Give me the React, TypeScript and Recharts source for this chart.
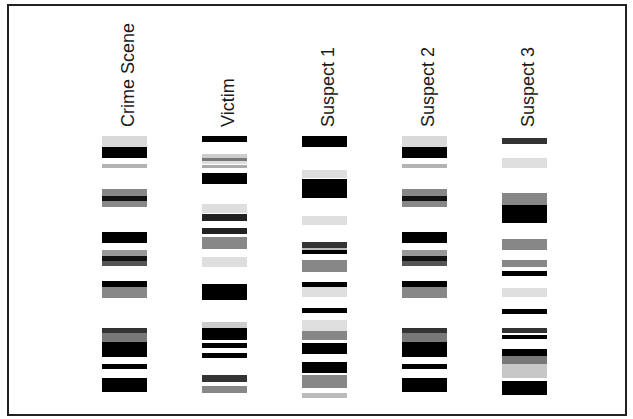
import { BarChart, Bar, XAxis, YAxis, Cell } from "recharts"

// Each band: [start, end, intensity]. Start/end are migration distance from the
// well (same units as the gel image), intensity is 0 (none) .. 1 (saturated).
type Band = [number, number, number]

const lanes = ["Crime Scene", "Victim", "Suspect 1", "Suspect 2", "Suspect 3"]

const crimeScene: Band[] = [
  [3, 14, 0.15], [14, 25, 1], [31, 35, 0.3],
  [56, 63, 0.47], [63, 68, 0.93], [68, 74, 0.47],
  [99, 110, 1],
  [117, 123, 0.4], [123, 128, 0.93], [128, 133, 0.67],
  [148, 154, 1], [154, 165, 0.47],
  [195, 200, 0.8], [200, 209, 0.53], [209, 224, 1],
  [231, 236, 1],
  [245, 259, 1],
]

const victim: Band[] = [
  [3, 9, 1],
  [21, 25, 0.2], [25, 28, 0.53], [28, 31, 0.13], [32, 35, 0.33],
  [40, 51, 1],
  [71, 80, 0.13], [81, 88, 0.87],
  [95, 101, 0.87], [104, 116, 0.47],
  [124, 134, 0.13],
  [151, 167, 1],
  [189, 195, 0.2], [195, 207, 1],
  [210, 215, 1], [220, 225, 1],
  [242, 249, 0.8], [253, 260, 0.47],
]

const suspect1: Band[] = [
  [3, 14, 1],
  [37, 45, 0.13], [46, 65, 1],
  [83, 92, 0.13],
  [109, 115, 0.8], [115, 117, 0.27], [117, 121, 1],
  [127, 139, 0.47],
  [149, 154, 1], [154, 164, 0.13],
  [175, 180, 1],
  [187, 198, 0.13], [198, 207, 0.47],
  [210, 221, 1],
  [229, 240, 1],
  [242, 255, 0.47],
  [260, 265, 0.27],
]

// Suspect 2 gives the same profile as the crime scene sample
const suspect2: Band[] = crimeScene.map((b) => [b[0], b[1], b[2]] as Band)

const suspect3: Band[] = [
  [5, 11, 0.8],
  [25, 35, 0.13],
  [60, 72, 0.47], [72, 90, 1],
  [106, 117, 0.47],
  [127, 134, 0.47], [138, 143, 1],
  [155, 164, 0.13],
  [176, 181, 1],
  [195, 200, 0.8], [202, 206, 1],
  [216, 223, 1], [223, 231, 0.53], [231, 245, 0.22],
  [248, 262, 1],
]

const laneBands = [crimeScene, victim, suspect1, suspect2, suspect3]
const maxBands = Math.max(...laneBands.map((l) => l.length))

const rows = lanes.map((lane, i) => {
  const row: Record<string, unknown> = { lane }
  laneBands[i].forEach((b, k) => {
    row[`b${k}`] = [b[0], b[1]]
    row[`i${k}`] = b[2]
  })
  return row
})

function shade(intensity: number) {
  const g = Math.round(255 * (1 - intensity))
  return `rgb(${g},${g},${g})`
}

const BAR = 45

function LaneLabel(props: any) {
  const { x, y, payload } = props
  const px = x + 10
  const py = y - 6
  return (
    <text
      x={px}
      y={py}
      transform={`rotate(-90, ${px}, ${py})`}
      textAnchor="start"
      fontSize={18}
      fontFamily="'Liberation Sans', Arial, sans-serif"
      fill="#1a1a1a"
    >
      {payload.value}
    </text>
  )
}

export default function App() {
  return (
    <div style={{ position: "absolute", left: 0, top: 0, width: 633, height: 419, background: "#fff" }}>
      <div
        style={{
          position: "absolute",
          left: 7,
          top: 4,
          width: 620,
          height: 412,
          border: "2px solid #222",
          boxSizing: "border-box",
        }}
      />
      <div style={{ position: "absolute", left: 0, top: 0 }}>
        <BarChart
          width={633}
          height={419}
          data={rows}
          margin={{ top: 13, right: 59, bottom: 16, left: 74 }}
          barSize={BAR}
          barGap={-BAR}
          barCategoryGap={0}
        >
          <XAxis
            dataKey="lane"
            orientation="top"
            height={120}
            axisLine={false}
            tickLine={false}
            tickSize={0}
            tickMargin={0}
            interval={0}
            padding={{ left: 0, right: 0 }}
            tick={<LaneLabel />}
          />
          <YAxis type="number" domain={[0, 270]} reversed hide allowDataOverflow />
          {Array.from({ length: maxBands }, (_, k) => (
            <Bar key={k} dataKey={`b${k}`} isAnimationActive={false}>
              {rows.map((r, i) => (
                <Cell key={i} fill={shade((r[`i${k}`] as number) ?? 0)} />
              ))}
            </Bar>
          ))}
        </BarChart>
      </div>
    </div>
  )
}
